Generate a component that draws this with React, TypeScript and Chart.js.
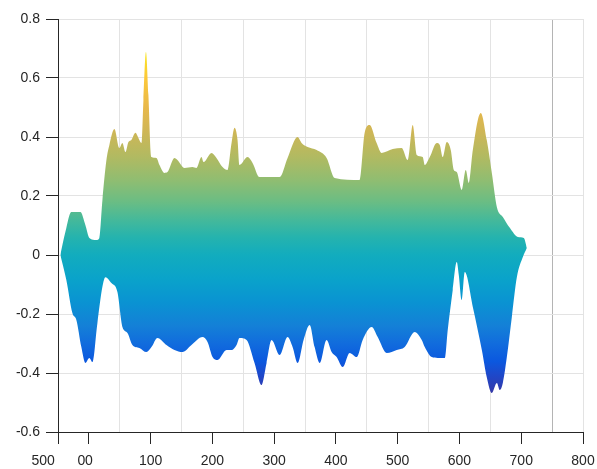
import { useEffect, useRef } from 'react';
import { Chart, registerables } from 'chart.js';

Chart.register(...registerables);

// Upper edge of the surface (side view)
const upperX = [-46.2, -38.1, -28.4, -13.8, -5.7, 0.8, 12.2, 17.0, 21.9, 28.4, 33.2, 41.3, 49.4, 54.3, 59.2, 64.0, 68.9, 75.4, 80.2, 85.1, 88.3, 92.4, 96.4, 99.7, 101.3, 109.4, 114.3, 122.4, 127.2, 138.6, 143.4, 154.8, 167.7, 174.2, 182.3, 185.6, 198.5, 206.6, 216.4, 224.5, 231.0, 235.8, 240.7, 243.9, 256.9, 265.0, 276.3, 308.8, 321.7, 337.9, 344.4, 354.1, 368.7, 384.9, 397.9, 438.4, 446.5, 454.6, 465.9, 474.0, 491.9, 506.5, 516.2, 524.3, 530.8, 540.5, 543.8, 551.9, 563.2, 568.1, 572.9, 579.4, 585.9, 590.8, 595.6, 603.7, 610.2, 615.1, 621.6, 634.5, 644.2, 652.4, 660.5, 670.2, 681.5, 694.5, 704.2, 709.1];
const upperY = [0.0, 0.078, 0.146, 0.146, 0.102, 0.058, 0.051, 0.058, 0.186, 0.322, 0.373, 0.427, 0.363, 0.38, 0.349, 0.383, 0.39, 0.414, 0.397, 0.38, 0.525, 0.688, 0.542, 0.356, 0.332, 0.329, 0.305, 0.278, 0.281, 0.329, 0.322, 0.295, 0.298, 0.295, 0.332, 0.315, 0.346, 0.329, 0.298, 0.288, 0.38, 0.431, 0.39, 0.305, 0.332, 0.312, 0.264, 0.264, 0.329, 0.4, 0.38, 0.366, 0.356, 0.329, 0.261, 0.254, 0.414, 0.441, 0.38, 0.346, 0.359, 0.363, 0.322, 0.441, 0.339, 0.332, 0.305, 0.332, 0.38, 0.373, 0.332, 0.383, 0.356, 0.288, 0.281, 0.22, 0.288, 0.244, 0.356, 0.481, 0.39, 0.278, 0.163, 0.129, 0.092, 0.061, 0.058, 0.024];

// Lower edge of the surface
const lowerX = [-46.2, -36.5, -26.7, -20.3, -12.2, -5.7, 0.8, 5.7, 13.8, 21.9, 26.7, 36.5, 46.2, 54.3, 62.4, 70.5, 81.8, 93.2, 101.3, 111.0, 125.6, 138.6, 151.5, 166.1, 184.0, 192.1, 200.2, 208.3, 222.9, 231.0, 239.1, 243.9, 255.3, 268.2, 279.6, 287.7, 295.8, 308.8, 321.7, 329.8, 337.9, 347.6, 357.4, 365.5, 373.6, 384.9, 393.0, 401.1, 410.9, 422.2, 433.6, 443.3, 457.9, 467.6, 482.2, 498.4, 511.3, 527.5, 538.9, 543.8, 555.1, 564.8, 576.2, 581.0, 589.1, 595.6, 598.9, 603.7, 608.6, 621.6, 636.2, 644.2, 652.4, 660.5, 665.3, 670.2, 676.7, 684.8, 692.9, 702.6, 709.1];
const lowerY = [0.0, -0.085, -0.197, -0.22, -0.312, -0.366, -0.349, -0.363, -0.231, -0.108, -0.075, -0.095, -0.125, -0.244, -0.264, -0.305, -0.315, -0.329, -0.312, -0.281, -0.305, -0.322, -0.329, -0.305, -0.278, -0.295, -0.346, -0.356, -0.322, -0.322, -0.305, -0.281, -0.288, -0.366, -0.441, -0.366, -0.288, -0.339, -0.278, -0.312, -0.366, -0.288, -0.237, -0.312, -0.366, -0.288, -0.329, -0.346, -0.38, -0.332, -0.346, -0.288, -0.244, -0.278, -0.332, -0.322, -0.312, -0.261, -0.288, -0.312, -0.346, -0.349, -0.349, -0.254, -0.119, -0.024, -0.068, -0.153, -0.058, -0.176, -0.322, -0.414, -0.468, -0.434, -0.458, -0.434, -0.346, -0.21, -0.075, -0.007, 0.024];

// Axis ticks
const xTickValues = [-50, 0, 100, 200, 300, 400, 500, 600, 700, 800];
const xTickLabels = ['', '0', '100', '200', '300', '400', '500', '600', '700', '800'];
// labels of the projected depth axis (no tick marks)
const depthTickValues = [-74, -12];
const depthTickLabels = ['500', '0'];
const xGridValues = [50, 150, 250, 350, 450, 550, 650, 750, 800];
const yTickValues = [-0.6, -0.4, -0.2, 0, 0.2, 0.4, 0.6, 0.8];
const yTickLabels = ['-0.6', '-0.4', '-0.2', '0', '0.2', '0.4', '0.6', '0.8'];

// colour map (parula-like) keyed by value
const colorStops: [number, string][] = [
  [-0.48, '#3a35a0'],
  [-0.41, '#1f47c8'],
  [-0.36, '#0b58df'],
  [-0.3, '#116cdd'],
  [-0.24, '#1480d7'],
  [-0.16, '#0a93d2'],
  [-0.08, '#0aa3ca'],
  [0.0, '#12acbe'],
  [0.06, '#25b3ae'],
  [0.12, '#45b99a'],
  [0.18, '#6abd84'],
  [0.25, '#8ebd72'],
  [0.33, '#b0ba62'],
  [0.42, '#cfb656'],
  [0.5, '#e8b84a'],
  [0.6, '#fcc83a'],
  [0.69, '#f8e61e'],
];

const AXIS = '#262626';
const FONT = 'Liberation Sans, Arial, sans-serif';

export default function App() {
  const ref = useRef<HTMLCanvasElement | null>(null);

  useEffect(() => {
    if (!ref.current) return;
    const allX = [...xTickValues.map((v, i) => ({ v, l: xTickLabels[i], mark: true })), ...depthTickValues.map((v, i) => ({ v, l: depthTickLabels[i], mark: false }))].sort((a, b) => a.v - b.v);

    const gradient = (ctx: any) => {
      const chart = ctx.chart;
      const { chartArea, scales } = chart;
      if (!chartArea) return 'rgba(0,0,0,0)';
      const lo = colorStops[0][0];
      const hi = colorStops[colorStops.length - 1][0];
      const g = chart.ctx.createLinearGradient(0, scales.y.getPixelForValue(lo), 0, scales.y.getPixelForValue(hi));
      colorStops.forEach(([v, c]) => g.addColorStop((v - lo) / (hi - lo), c));
      return g;
    };

    const chart = new Chart(ref.current, {
      type: 'line',
      data: {
        datasets: [
          {
            data: upperX.map((x, i) => ({ x, y: upperY[i] })),
            fill: '+1',
            backgroundColor: gradient,
            borderWidth: 0,
            pointRadius: 0,
            cubicInterpolationMode: 'monotone',
          },
          {
            data: lowerX.map((x, i) => ({ x, y: lowerY[i] })),
            fill: false,
            borderWidth: 0,
            pointRadius: 0,
            cubicInterpolationMode: 'monotone',
          },
        ],
      },
      options: {
        animation: false,
        responsive: true,
        maintainAspectRatio: false,
        events: [],
        layout: { padding: { top: 19, right: 14, left: 0, bottom: 0 } },
        plugins: { legend: { display: false }, tooltip: { enabled: false } },
        scales: {
          x: {
            type: 'linear',
            position: 'bottom',
            min: -50,
            max: 800,
            afterBuildTicks: (scale: any) => {
              scale.ticks = allX.map((t) => ({ value: t.v }));
            },
            afterFit: (scale: any) => {
              scale.height = 37;
              scale.paddingLeft = 0;
              scale.paddingRight = 0;
            },
            ticks: {
              autoSkip: false,
              maxRotation: 0,
              minRotation: 0,
              padding: 9,
              color: AXIS,
              font: { family: FONT, size: 14 },
              callback: (value: any) => {
                const t = allX.find((a) => a.v === value);
                return t ? t.l : '';
              },
            },
            grid: {
              drawOnChartArea: false,
              drawTicks: true,
              tickLength: 12,
              tickColor: (ctx: any) => {
                const t = allX.find((a) => a.v === ctx.tick?.value);
                return t && t.mark ? AXIS : 'rgba(0,0,0,0)';
              },
            },
            border: { display: true, color: AXIS, width: 1 },
          },
          xg: {
            type: 'linear',
            position: 'top',
            min: -50,
            max: 800,
            afterBuildTicks: (scale: any) => {
              scale.ticks = xGridValues.map((v) => ({ value: v }));
            },
            afterFit: (scale: any) => {
              scale.height = 0;
              scale.paddingLeft = 0;
              scale.paddingRight = 0;
            },
            ticks: { display: false },
            grid: {
              drawTicks: false,
              color: (ctx: any) => (ctx.tick?.value === 750 ? '#b4b4b4' : '#e3e3e3'),
            },
            border: { display: false },
          },
          y: {
            type: 'linear',
            min: -0.6,
            max: 0.8,
            afterBuildTicks: (scale: any) => {
              scale.ticks = yTickValues.map((v) => ({ value: v }));
            },
            afterFit: (scale: any) => {
              scale.width = 58;
            },
            ticks: {
              padding: 6,
              color: AXIS,
              font: { family: FONT, size: 14 },
              callback: (value: any) => {
                const i = yTickValues.findIndex((v) => Math.abs(v - value) < 1e-9);
                return i >= 0 ? yTickLabels[i] : '';
              },
            },
            grid: {
              color: '#e3e3e3',
              tickColor: AXIS,
              tickLength: 12,
            },
            border: { display: true, color: AXIS, width: 1 },
          },
        },
      } as any,
    });
    return () => chart.destroy();
  }, []);

  return (
    <div style={{ position: 'fixed', left: 0, top: 0, width: 597, height: 469, background: '#fff' }}>
      <canvas ref={ref} />
    </div>
  );
}
